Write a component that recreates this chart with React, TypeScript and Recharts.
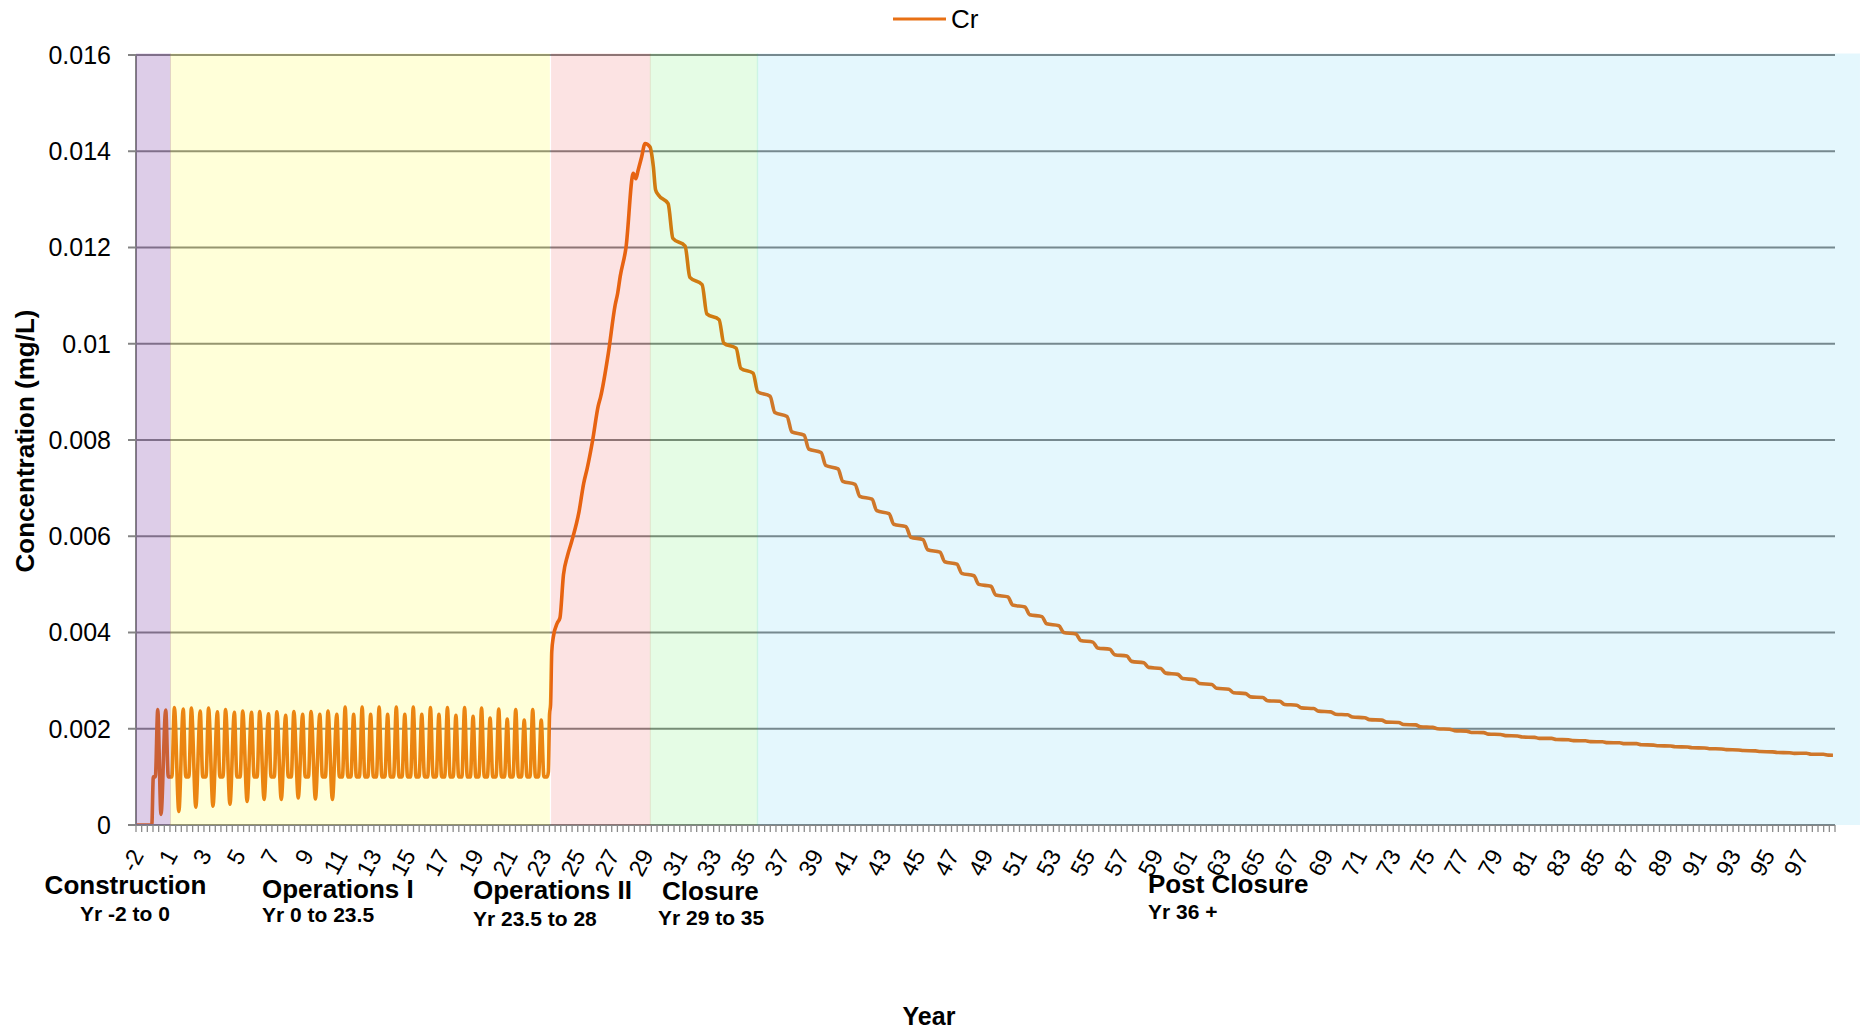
import React from "react";
import { LineChart, Line, XAxis, YAxis, CartesianGrid, ReferenceArea } from "recharts";

// ---------------- data (year, Cr concentration mg/L) ----------------
type Pt = [number, number];

const constructionData: Pt[] = [
  [-2, 0], [-1.07, 0], [-0.98, 0.001], [-0.86, 0.001], [-0.72, 0.0024], [-0.53, 0.00022], [-0.25, 0.00239], [-0.1, 0.001],
];

const operationsIData: Pt[] = [
  [0.11, 0.001], [0.26, 0.00244], [0.52, 0.00028], [0.78, 0.00241], [0.93, 0.001],
  [1.11, 0.001], [1.26, 0.00243], [1.52, 0.00037], [1.78, 0.00237], [1.93, 0.001],
  [2.12, 0.001], [2.27, 0.00243], [2.53, 0.00039], [2.79, 0.00235], [2.94, 0.001],
  [3.12, 0.001], [3.27, 0.0024], [3.53, 0.00043], [3.79, 0.00234], [3.94, 0.001],
  [4.13, 0.001], [4.28, 0.00237], [4.54, 0.00049], [4.8, 0.00234], [4.95, 0.001],
  [5.13, 0.001], [5.28, 0.00236], [5.54, 0.00053], [5.8, 0.00231], [5.95, 0.001],
  [6.14, 0.001], [6.29, 0.00235], [6.55, 0.00053], [6.81, 0.00228], [6.96, 0.001],
  [7.14, 0.001], [7.29, 0.00236], [7.55, 0.00056], [7.81, 0.0023], [7.96, 0.001],
  [8.15, 0.001], [8.3, 0.00236], [8.56, 0.00054], [8.82, 0.0023], [8.97, 0.001],
  [9.15, 0.001], [9.3, 0.00237], [9.56, 0.00053], [9.82, 0.0023], [9.97, 0.001],
  [10.15, 0.001], [10.31, 0.00245], [10.47, 0.001], [10.65, 0.001], [10.81, 0.0023], [10.97, 0.001],
  [11.15, 0.001], [11.31, 0.00245], [11.47, 0.001], [11.65, 0.001], [11.81, 0.0023], [11.97, 0.001],
  [12.15, 0.001], [12.31, 0.00245], [12.47, 0.001], [12.65, 0.001], [12.81, 0.0023], [12.97, 0.001],
  [13.16, 0.001], [13.32, 0.00245], [13.48, 0.001], [13.66, 0.001], [13.82, 0.0023], [13.98, 0.001],
  [14.16, 0.001], [14.32, 0.00245], [14.48, 0.001], [14.66, 0.001], [14.82, 0.0023], [14.98, 0.001],
  [15.17, 0.001], [15.33, 0.00244], [15.49, 0.001], [15.67, 0.001], [15.83, 0.0023], [15.99, 0.001],
  [16.17, 0.001], [16.33, 0.00244], [16.49, 0.001], [16.67, 0.001], [16.83, 0.00228], [16.99, 0.001],
  [17.18, 0.001], [17.34, 0.00244], [17.5, 0.001], [17.68, 0.001], [17.84, 0.00226], [18.0, 0.001],
  [18.18, 0.001], [18.34, 0.00243], [18.5, 0.001], [18.68, 0.001], [18.84, 0.00222], [19.0, 0.001],
  [19.19, 0.001], [19.35, 0.00241], [19.51, 0.001], [19.69, 0.001], [19.85, 0.0022], [20.01, 0.001],
  [20.19, 0.001], [20.35, 0.0024], [20.51, 0.001], [20.69, 0.001], [20.85, 0.00218], [21.01, 0.001],
  [21.19, 0.001], [21.35, 0.0024], [21.51, 0.001], [21.69, 0.001], [21.85, 0.00218], [22.01, 0.001],
  [22.2, 0.001],
];

const operationsIIData: Pt[] = [
  [22.27, 0.0011], [22.34, 0.0023], [22.4, 0.0025], [22.47, 0.0036], [22.56, 0.0039], [22.8, 0.0042],
  [22.95, 0.0043], [23.16, 0.0052], [23.4, 0.0056], [23.65, 0.0059], [24.07, 0.0065], [24.35, 0.0071],
  [24.55, 0.0074], [24.88, 0.008], [25.2, 0.0087], [25.35, 0.0089], [25.8, 0.0098], [26.2, 0.0108],
  [26.35, 0.01105], [26.5, 0.0114], [26.84, 0.012], [27.27, 0.01354], [27.42, 0.01343], [27.55, 0.0136],
  [27.76, 0.01388], [27.96, 0.01416], [28.25, 0.01409],
];

const closureData: Pt[] = [
  [28.45, 0.01368], [28.58, 0.0132], [28.75, 0.01309], [29.32, 0.01291], [29.6, 0.01219], [30.32, 0.01203],
  [30.6, 0.01138], [31.32, 0.01123], [31.6, 0.01062], [32.32, 0.0105], [32.6, 0.01001], [33.32, 0.00991],
  [33.6, 0.00949], [34.32, 0.00939], [34.6, 0.009],
];

const postClosureData: Pt[] = [
  [35.32, 0.00891], [35.6, 0.00857], [36.32, 0.00849], [36.6, 0.00817], [37.32, 0.0081], [37.6, 0.00781],
  [38.32, 0.00774], [38.6, 0.00747], [39.32, 0.0074], [39.6, 0.00714], [40.32, 0.00708], [40.6, 0.00683],
  [41.32, 0.00677], [41.6, 0.00653], [42.32, 0.00647], [42.6, 0.00625], [43.32, 0.0062], [43.6, 0.00598],
  [44.32, 0.00593], [44.6, 0.00572], [45.32, 0.00567], [45.6, 0.00547], [46.32, 0.00542], [46.6, 0.00523],
  [47.32, 0.00518], [47.6, 0.005], [48.32, 0.00496], [48.6, 0.00478], [49.32, 0.00474], [49.6, 0.00457],
  [50.32, 0.00453], [50.6, 0.00437], [51.32, 0.00433], [51.6, 0.00418], [52.32, 0.00414], [52.6, 0.004],
  [53.32, 0.00397], [53.6, 0.003835], [54.32, 0.0038], [54.6, 0.00368], [55.32, 0.00365], [55.6, 0.00354],
  [56.32, 0.00351], [56.6, 0.0034], [57.32, 0.00337], [57.6, 0.003275], [58.32, 0.00325], [58.6, 0.003156],
  [59.32, 0.00313], [59.6, 0.003044], [60.32, 0.00302], [60.6, 0.002939], [61.32, 0.00292], [61.6, 0.002841],
  [62.32, 0.00282], [62.6, 0.002749], [63.32, 0.00273], [63.6, 0.002662], [64.32, 0.00265], [64.6, 0.002581],
  [65.32, 0.00257], [65.6, 0.002505], [66.32, 0.00249], [66.6, 0.002433], [67.32, 0.00242], [67.6, 0.002366],
  [68.32, 0.00235], [68.6, 0.002303], [69.32, 0.00229], [69.6, 0.002244], [70.32, 0.00223], [70.6, 0.002189],
  [71.32, 0.00218], [71.6, 0.002137], [72.32, 0.00213], [72.6, 0.002088], [73.32, 0.00208], [73.6, 0.002043],
  [74.32, 0.00203], [74.6, 0.002], [75.32, 0.00199], [75.6, 0.00196], [76.32, 0.00195], [76.6, 0.001923],
  [77.32, 0.00192], [77.6, 0.001889], [78.32, 0.00188], [78.6, 0.001857], [79.32, 0.00185], [79.6, 0.001828],
  [80.32, 0.00182], [80.6, 0.001801], [81.32, 0.0018], [81.6, 0.001776], [82.32, 0.00177], [82.6, 0.001753],
  [83.32, 0.00175], [83.6, 0.001732], [84.32, 0.00173], [84.6, 0.001711], [85.32, 0.00171], [85.6, 0.00169],
  [86.32, 0.00169], [86.6, 0.001668], [87.32, 0.00166], [87.6, 0.001647], [88.32, 0.00164], [88.6, 0.001627],
  [89.32, 0.00162], [89.6, 0.001606], [90.32, 0.0016], [90.6, 0.001586], [91.32, 0.00158], [91.6, 0.001566],
  [92.32, 0.00156], [92.6, 0.001547], [93.32, 0.00154], [93.6, 0.001527], [94.32, 0.00152], [94.6, 0.001508],
  [95.32, 0.0015], [95.6, 0.001489], [96.32, 0.00149], [96.6, 0.001471], [97.32, 0.00147], [97.6, 0.001452],
  [97.88, 0.00145],
];

const yTicks = [0, 0.002, 0.004, 0.006, 0.008, 0.01, 0.012, 0.014, 0.016];
const yTickLabels = ["0", "0.002", "0.004", "0.006", "0.008", "0.01", "0.012", "0.014", "0.016"];

const xTickLabels = [
  "-2", "1", "3", "5", "7", "9", "11", "13", "15", "17", "19", "21", "23", "25", "27", "29", "31",
  "33", "35", "37", "39", "41", "43", "45", "47", "49", "51", "53", "55", "57", "59", "61", "63",
  "65", "67", "69", "71", "73", "75", "77", "79", "81", "83", "85", "87", "89", "91", "93", "95", "97",
];

const phaseNames = ["Construction", "Operations I", "Operations II", "Closure", "Post Closure"];
const phaseSubtitles = ["Yr -2 to 0", "Yr 0 to 23.5", "Yr 23.5 to 28", "Yr 29 to 35", "Yr 36 +"];
const phaseRanges: [number, number][] = [
  [-2, 0.06], [0, 22.36], [22.43, 28.3], [28.24, 34.62], [34.54, 99.47],
];

// ---------------- layout / style ----------------
const FONT = '"Liberation Sans", Arial, Helvetica, sans-serif';
const W = 1868;
const H = 1032;
const MARGIN = { top: 55, right: 33, bottom: 7, left: 0 };
const X_AXIS_HEIGHT = 200;
const Y_AXIS_WIDTH = 136;
const X_DOMAIN: [number, number] = [-2, 98];
const Y_DOMAIN: [number, number] = [0, 0.016];
const LINE_COLOR = "#E87014";
const AXIS_GRAY = "#848484";

const phaseStyles = [
  { fill: "#7030A0", opacity: 0.24, title: { x: 125.5, y: 894, anchor: "middle" }, sub: { x: 80, y: 921 } },
  { fill: "#FFFF00", opacity: 0.15, title: { x: 262, y: 898, anchor: "start" }, sub: { x: 262, y: 922 } },
  { fill: "#E60000", opacity: 0.11, title: { x: 473, y: 899, anchor: "start" }, sub: { x: 473, y: 926 } },
  { fill: "#00E600", opacity: 0.1, title: { x: 662, y: 900, anchor: "start" }, sub: { x: 658, y: 925 } },
  { fill: "#00B0F0", opacity: 0.106, title: { x: 1148, y: 893, anchor: "start" }, sub: { x: 1148, y: 919 } },
];

const data = [
  ...constructionData,
  ...operationsIData,
  ...operationsIIData,
  ...closureData,
  ...postClosureData,
].map(([year, cr]) => ({ year, cr }));

const minorTicks = Array.from({ length: 301 }, (_, i) => X_DOMAIN[0] + i / 3);
const labelTicks = xTickLabels.map((_, i) => -1.5 + 2 * i);
const labelByValue = new Map<number, string>();
labelTicks.forEach((v, i) => labelByValue.set(v, xTickLabels[i]));
const allXTicks = [...minorTicks, ...labelTicks];

function XTick(props: any) {
  const { x, y, payload } = props;
  const label = labelByValue.get(payload.value);
  if (label !== undefined) {
    const ay = y + 30;
    return (
      <text
        x={x}
        y={ay}
        textAnchor="end"
        fontSize={23.5}
        fontFamily={FONT}
        fill="#000"
        transform={`rotate(-62 ${x} ${ay})`}
      >
        {label}
      </text>
    );
  }
  return <line x1={x} y1={y} x2={x} y2={y + 7} stroke="#8C8C8C" strokeWidth={1.3} />;
}

const yFormatter = (v: number) => {
  const i = yTicks.indexOf(v);
  return i >= 0 ? yTickLabels[i] : String(v);
};

export default function App() {
  return (
    <div style={{ position: "absolute", left: 0, top: 0, width: W, height: H, fontFamily: FONT, background: "#fff" }}>
      {/* main chart: grid, axes, series */}
      <div style={{ position: "absolute", left: 0, top: 0 }}>
        <LineChart width={W} height={H} data={data} margin={MARGIN}>
          <CartesianGrid vertical={false} stroke={AXIS_GRAY} strokeWidth={2} />
          <XAxis
            dataKey="year"
            type="number"
            domain={X_DOMAIN}
            ticks={allXTicks}
            interval={0}
            height={X_AXIS_HEIGHT}
            tickSize={0}
            tickMargin={0}
            tickLine={false}
            axisLine={{ stroke: AXIS_GRAY, strokeWidth: 2 }}
            tick={<XTick />}
            allowDataOverflow
          />
          <YAxis
            type="number"
            domain={Y_DOMAIN}
            ticks={yTicks}
            interval={0}
            width={Y_AXIS_WIDTH}
            tickSize={8}
            tickMargin={17}
            tickFormatter={yFormatter}
            tick={{ fontSize: 25, fill: "#000", fontFamily: FONT }}
            tickLine={{ stroke: AXIS_GRAY, strokeWidth: 2 }}
            axisLine={{ stroke: AXIS_GRAY, strokeWidth: 2 }}
            allowDataOverflow
          />
          <Line
            type="monotone"
            dataKey="cr"
            stroke={LINE_COLOR}
            strokeWidth={3.6}
            dot={false}
            activeDot={false}
            isAnimationActive={false}
            strokeLinejoin="round"
          />
        </LineChart>
      </div>

      {/* translucent phase bands laid over the plot */}
      <div style={{ position: "absolute", left: 0, top: 0, pointerEvents: "none" }}>
        <LineChart width={W} height={H} data={data} margin={MARGIN}>
          <XAxis
            dataKey="year"
            type="number"
            domain={X_DOMAIN}
            height={X_AXIS_HEIGHT}
            tick={false}
            tickLine={false}
            axisLine={false}
            allowDataOverflow
          />
          <YAxis
            type="number"
            domain={Y_DOMAIN}
            width={Y_AXIS_WIDTH}
            tick={false}
            tickLine={false}
            axisLine={false}
            allowDataOverflow
          />
          <Line dataKey="cr" stroke="none" dot={false} activeDot={false} isAnimationActive={false} />
          {phaseRanges.map(([x1, x2], i) => (
            <ReferenceArea
              key={phaseNames[i]}
              x1={x1}
              x2={x2}
              y1={0}
              y2={0.01603}
              fill={phaseStyles[i].fill}
              fillOpacity={phaseStyles[i].opacity}
              stroke="none"
              ifOverflow="visible"
            />
          ))}
        </LineChart>
      </div>

      {/* legend, titles and phase labels */}
      <svg width={W} height={H} style={{ position: "absolute", left: 0, top: 0, pointerEvents: "none" }}>
        <line x1={893} y1={19} x2={946} y2={19} stroke={LINE_COLOR} strokeWidth={3} />
        <text x={951} y={28} fontSize={26} fontFamily={FONT} fill="#000">Cr</text>
        <text
          transform="translate(33.5 441) rotate(-90)"
          textAnchor="middle"
          fontSize={26}
          fontWeight="bold"
          fontFamily={FONT}
          fill="#000"
        >
          Concentration (mg/L)
        </text>
        <text x={929} y={1025} textAnchor="middle" fontSize={25} fontWeight="bold" fontFamily={FONT} fill="#000">
          Year
        </text>
        {phaseNames.map((name, i) => (
          <g key={name}>
            <text
              x={phaseStyles[i].title.x}
              y={phaseStyles[i].title.y}
              textAnchor={phaseStyles[i].title.anchor as any}
              fontSize={26}
              fontWeight="bold"
              fontFamily={FONT}
              fill="#000"
            >
              {name}
            </text>
            <text
              x={phaseStyles[i].sub.x}
              y={phaseStyles[i].sub.y}
              fontSize={21}
              fontWeight="bold"
              fontFamily={FONT}
              fill="#000"
            >
              {phaseSubtitles[i]}
            </text>
          </g>
        ))}
      </svg>
    </div>
  );
}
